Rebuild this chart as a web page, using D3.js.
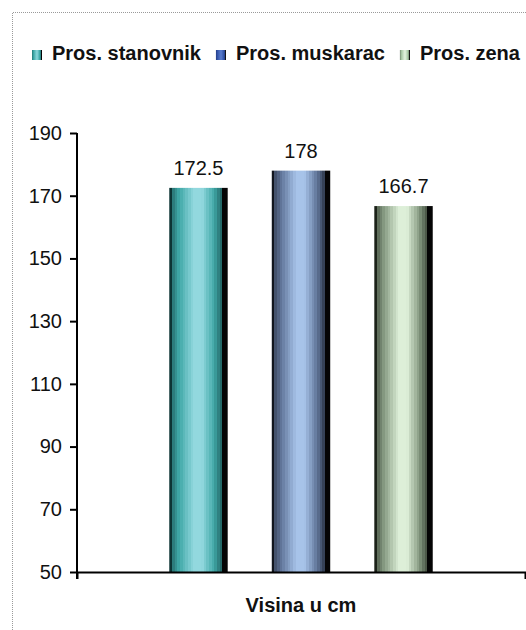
<!DOCTYPE html>
<html>
<head>
<meta charset="utf-8">
<script src="https://cdn.jsdelivr.net/npm/d3@7/dist/d3.min.js"></script>
<style>
  html, body { margin: 0; padding: 0; background: #fff; }
  svg { display: block; font-family: Arial, "Liberation Sans", sans-serif; }
</style>
</head>
<body>
<svg id="chart" width="526" height="630"></svg>
<script>
// Average height (cm)
const category = "Visina u cm";
const series = ["Pros. stanovnik", "Pros. muskarac", "Pros. zena"];
const values = [172.5, 178, 166.7];
const yTicks = [50, 70, 90, 110, 130, 150, 170, 190];

// Cylinder shading per series: dark edge, mid tone, highlight
const barShades = [
  ["#0d3434", "#3fa7a6", "#92d8de"],
  ["#12161e", "#61769a", "#a7c3e9"],
  ["#1c2219", "#869a82", "#ddefd8"]
];
const legendShades = [
  ["#15504f", "#3aa5a4", "#7fd0d4"],
  ["#1b2c66", "#3354a8", "#5577c8"],
  ["#4b5e48", "#a9c9a6", "#dcefd8"]
];

const svg = d3.select("#chart");
const W = 526, H = 630;
const plot = { left: 77, right: 525, top: 133, bottom: 572 };

// Dotted frame of the chart area
svg.append("path")
  .attr("d", `M12.5,${H} V12.5 H${W}`)
  .attr("fill", "none")
  .attr("stroke", "#9a9a9a")
  .attr("stroke-width", 1)
  .attr("stroke-dasharray", "1,1");

const defs = svg.append("defs");

// Banded horizontal gradient that imitates a shaded cylinder
function cylinder(id, shades) {
  const ramp = d3.scaleLinear().domain([0, 0.5, 1]).range(shades).interpolate(d3.interpolateRgb);
  const profile = t => {
    if (t < 0.035) return 0;
    if (t < 0.42) return 0.25 + 0.75 * (t - 0.035) / (0.42 - 0.035);
    if (t < 0.56) return 1;
    if (t < 0.92) return 1 - 0.85 * (t - 0.56) / (0.92 - 0.56);
    return -1;
  };
  const g = defs.append("linearGradient").attr("id", id)
    .attr("x1", 0).attr("x2", 1).attr("y1", 0).attr("y2", 0);
  const n = 22;
  for (let i = 0; i < n; i++) {
    const t0 = i / n, t1 = (i + 1) / n;
    const p = profile((t0 + t1) / 2);
    const c = p < 0 ? "#050505" : ramp(p);
    g.append("stop").attr("offset", t0).attr("stop-color", c);
    g.append("stop").attr("offset", t1).attr("stop-color", c);
  }
}
series.forEach((s, i) => {
  cylinder("bar" + i, barShades[i]);
  cylinder("leg" + i, legendShades[i]);
});

const y = d3.scaleLinear().domain([50, 190]).range([plot.bottom, plot.top]);
const x = d3.scaleBand().domain(series).range([plot.left, plot.right])
  .paddingInner(0.43).paddingOuter(0.9);
const xCat = d3.scaleBand().domain([category]).range([plot.left, plot.right]);

// Bars
svg.append("g").selectAll("rect")
  .data(series)
  .join("rect")
  .attr("x", d => x(d))
  .attr("width", x.bandwidth())
  .attr("y", (d, i) => y(values[i]))
  .attr("height", (d, i) => y(50) - y(values[i]))
  .attr("fill", (d, i) => `url(#bar${i})`);

// Value labels
svg.append("g").selectAll("text")
  .data(series)
  .join("text")
  .attr("x", d => x(d) + x.bandwidth() / 2)
  .attr("y", (d, i) => y(values[i]) - 13)
  .attr("text-anchor", "middle")
  .attr("font-size", 20)
  .attr("fill", "#111")
  .text((d, i) => values[i]);

// Y axis
const yAxis = svg.append("g")
  .attr("transform", `translate(${plot.left},0)`)
  .call(d3.axisLeft(y).tickValues(yTicks).tickSize(7).tickSizeOuter(0).tickPadding(8));
yAxis.select(".domain").remove();
yAxis.selectAll(".tick line").attr("stroke", "#000").attr("stroke-width", 2);
yAxis.selectAll(".tick text")
  .attr("font-size", 20).attr("font-family", "Arial, 'Liberation Sans', sans-serif")
  .attr("fill", "#111");
svg.append("line")
  .attr("x1", plot.left).attr("x2", plot.left)
  .attr("y1", plot.top).attr("y2", plot.bottom + 7)
  .attr("stroke", "#000").attr("stroke-width", 2);

// X axis with the category title
const xAxis = svg.append("g")
  .attr("transform", `translate(0,${plot.bottom})`)
  .call(d3.axisBottom(xCat).tickSize(0).tickSizeOuter(7).tickPadding(26));
xAxis.select(".domain").attr("stroke", "#000").attr("stroke-width", 2);
xAxis.selectAll(".tick text")
  .attr("font-size", 20).attr("font-weight", "bold")
  .attr("font-family", "Arial, 'Liberation Sans', sans-serif")
  .attr("fill", "#111");

// Legend
const legend = svg.append("g").attr("transform", "translate(32,0)");
let lx = 0;
series.forEach((s, i) => {
  const item = legend.append("g").attr("transform", `translate(${lx},0)`);
  item.append("rect")
    .attr("x", 0).attr("y", 50).attr("width", 10).attr("height", 10)
    .attr("fill", `url(#leg${i})`);
  const t = item.append("text")
    .attr("x", 20).attr("y", 60)
    .attr("font-size", 20).attr("font-weight", "bold")
    .attr("fill", "#111")
    .text(s);
  lx += 20 + t.node().getComputedTextLength() + 15;
});
</script>
</body>
</html>
